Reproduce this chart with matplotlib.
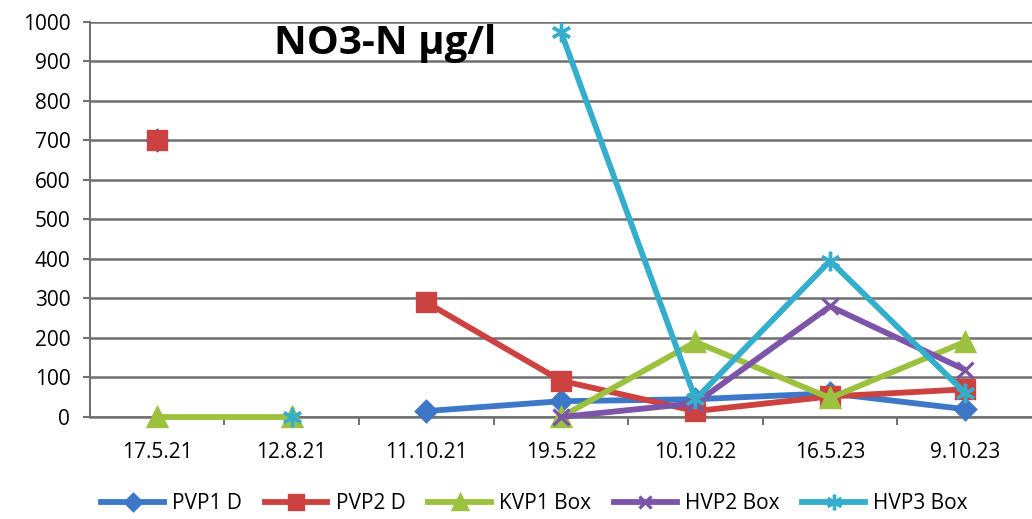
import numpy as np
import matplotlib.pyplot as plt

# sampling dates (categories)
dates = ["17.5.21", "12.8.21", "11.10.21", "19.5.22", "10.10.22", "16.5.23", "9.10.23"]

# NO3-N values, None = no measurement
pvp1_d = [700, None, 15, 40, 45, 60, 20]
pvp2_d = [700, None, 290, 92, 15, 52, 70]
kvp1_box = [0, 0, None, 0, 190, 48, 190]
hvp2_box = [None, None, None, 0, 35, 280, 120]
hvp3_box = [None, 0, None, 975, 45, 395, 62]

series = [
    ("PVP1 D", pvp1_d, "#3d78c8", "D", 10),
    ("PVP2 D", pvp2_d, "#cc4240", "s", 13),
    ("KVP1 Box", kvp1_box, "#9bc13f", "^", 13),
    ("HVP2 Box", hvp2_box, "#7d55a8", "x", 11),
    ("HVP3 Box", hvp3_box, "#35aecb", (6, 2, 0), 14),
]

plt.rcParams['font.family'] = ['Open Sans', 'DejaVu Sans']

fig = plt.figure(figsize=(10.32, 5.19), dpi=100)
ax = fig.add_axes([0.087, 0.1965, 0.913, 0.7615])

x = np.arange(len(dates))
for name, vals, col, mk, ms in series:
    y = np.array([np.nan if v is None else v for v in vals], dtype=float)
    ax.plot(x, y, color=col, lw=4.2, marker=mk, markersize=ms,
            markeredgewidth=2.4, markeredgecolor=col, label=name,
            zorder=3, clip_on=False)

ax.set_xlim(-0.5, len(dates) - 0.5)
ax.set_ylim(0, 1000)
ax.set_yticks(np.arange(0, 1001, 100))
ax.set_xticks(x)
ax.set_xticklabels(dates, fontsize=15)
ax.tick_params(axis='x', length=0, pad=18)
ax.set_xticks(np.arange(0.5, len(dates) - 0.5, 1), minor=True)
ax.tick_params(axis='x', which='minor', length=6, width=1.2, color='#555555')
ax.tick_params(axis='y', length=5, width=1.5, color='#707070',
               labelsize=15, pad=9)

ax.grid(axis='y', color='#707070', lw=1.8, zorder=0)
for s in ['top', 'right']:
    ax.spines[s].set_visible(False)
ax.spines['left'].set_color('#707070')
ax.spines['left'].set_linewidth(1.5)
ax.spines['bottom'].set_color('#707070')
ax.spines['bottom'].set_linewidth(1.8)

ax.text(0.195, 0.945, "NO3-N µg/l", transform=ax.transAxes, fontsize=29,
        fontweight='bold', ha='left', va='center')

fig.legend(loc='center', bbox_to_anchor=(0.518, 0.03), ncol=5,
           frameon=False, fontsize=15, handlelength=3.0, columnspacing=1.1,
           handletextpad=0.4, markerscale=0.8)

fig.savefig("out.png", dpi=100)
